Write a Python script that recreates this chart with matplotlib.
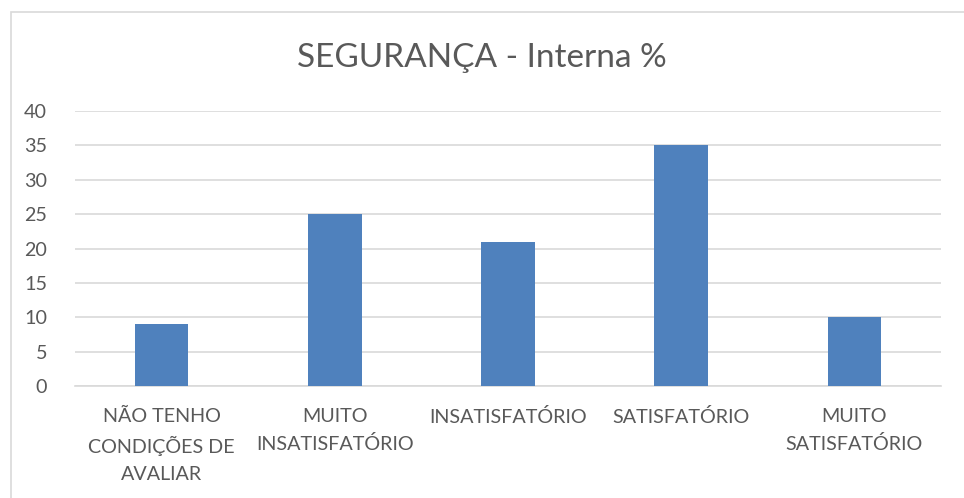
import matplotlib.pyplot as plt
from matplotlib.patches import Rectangle

categorias = ["NÃO TENHO\nCONDIÇÕES DE\nAVALIAR", "MUITO\nINSATISFATÓRIO",
              "INSATISFATÓRIO", "SATISFATÓRIO", "MUITO\nSATISFATÓRIO"]
valores = [9, 25, 21, 35, 10]
titulo = "SEGURANÇA - Interna %"

cinza_txt = "#595959"
cinza_linha = "#D9D9D9"
azul = "#4F81BD"

plt.rcParams['font.family'] = ['Lato', 'DejaVu Sans']

fig = plt.figure(figsize=(9.64, 4.98), dpi=100)
ax = fig.add_axes([0.0778, 0.2249, 0.8984, 0.5522])

x = range(len(valores))
ax.bar(x, valores, width=0.31, color=azul, zorder=3)

ax.set_ylim(0, 40)
ax.set_xlim(-0.5, len(valores) - 0.5)
ax.set_yticks(range(0, 41, 5))
ax.set_xticks(list(x))
ax.set_xticklabels(categorias, linespacing=1.65)
ax.yaxis.grid(True, color=cinza_linha, linewidth=1.2, zorder=0)
ax.tick_params(axis='both', length=0, labelsize=14.2, colors=cinza_txt)
ax.tick_params(axis='y', pad=20)
ax.tick_params(axis='x', pad=16)
for s in ["top", "right", "left"]:
    ax.spines[s].set_visible(False)
ax.spines["bottom"].set_color(cinza_linha)
ax.spines["bottom"].set_linewidth(1.2)

fig.text(0.5, 0.884, titulo, ha="center", va="center", fontsize=24, color=cinza_txt)

# moldura do gráfico
fig.add_artist(Rectangle((11 / 964, -0.05), 1.1, 1.05 - 12 / 498, transform=fig.transFigure,
                         fill=False, edgecolor=cinza_linha, linewidth=1.2))

fig.savefig("out.png", dpi=100)
